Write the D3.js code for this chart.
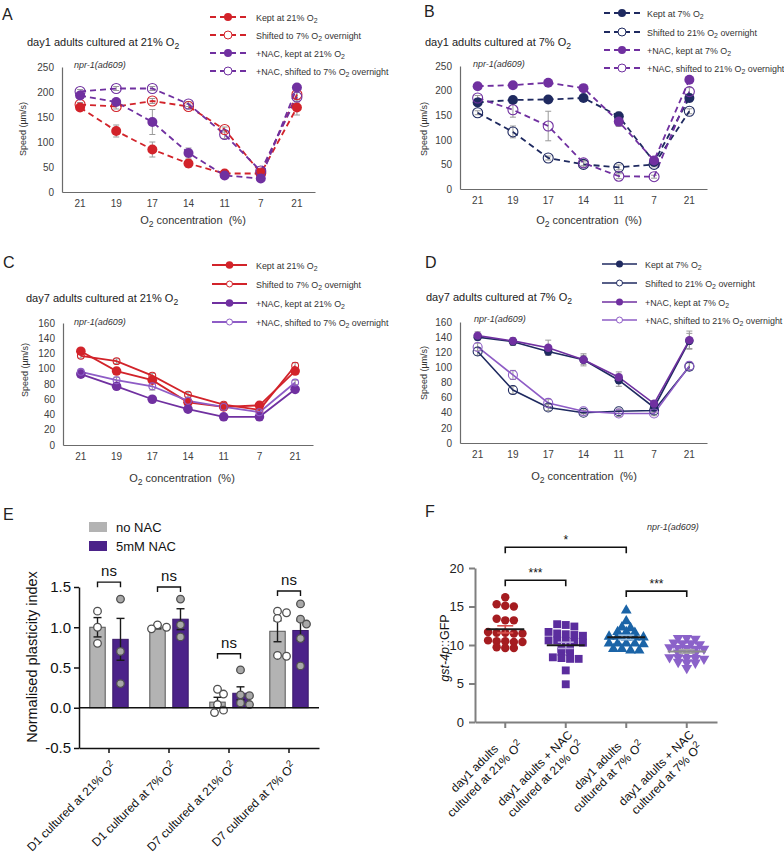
<!DOCTYPE html>
<html><head><meta charset="utf-8">
<script src="https://cdn.jsdelivr.net/npm/d3@7"></script>
<style>
body{margin:0;background:#fff;}
svg{display:block;}
</style></head><body>
<script>
// ---------------- DATA ----------------
const o2Levels = ["21","19","17","14","11","7","21"];

// Panel A: day1 adults cultured at 21% O2
const aKept21      = [169, 122, 85, 57, 37, 37, 169];
const aKept21Err   = [4, 12, 15, 8, 3, 3, 15];
const aShift7      = [175, 171, 182, 171, 125, 38, 195];
const aShift7Err   = [4, 5, 5, 5, 5, 5, 10];
const aNacKept21   = [193, 180, 140, 78, 33, 27, 209];
const aNacKept21Err= [4, 5, 25, 10, 3, 3, 5];
const aNacShift7   = [201, 207, 207, 176, 115, 42, 190];
const aNacShift7Err= [4, 4, 4, 5, 8, 5, 10];

// Panel B: day1 adults cultured at 7% O2
const bKept7       = [176, 181, 182, 185, 148, 55, 185];
const bKept7Err    = [4, 5, 5, 5, 8, 5, 8];
const bShift21     = [155, 116, 63, 50, 44, 50, 158];
const bShift21Err  = [4, 12, 4, 5, 5, 5, 5];
const bNacKept7    = [209, 211, 216, 205, 137, 58, 222];
const bNacKept7Err = [5, 4, 4, 4, 10, 5, 5];
const bNacShift21  = [185, 161, 128, 53, 26, 25, 198];
const bNacShift21Err=[5, 15, 30, 5, 5, 3, 8];

// Panel C: day7 adults cultured at 21% O2
const cKept21      = [123, 97, 85, 56, 50, 52, 97];
const cKept21Err   = [3, 4, 4, 3, 3, 3, 4];
const cShift7      = [117, 110, 91, 66, 53, 46, 104];
const cShift7Err   = [3, 3, 3, 3, 3, 3, 4];
const cNacKept21   = [93, 77, 60, 47, 37, 37, 73];
const cNacKept21Err= [3, 3, 3, 3, 2, 2, 3];
const cNacShift7   = [96, 85, 77, 58, 50, 43, 82];
const cNacShift7Err= [3, 4, 5, 3, 3, 3, 3];

// Panel D: day7 adults cultured at 7% O2
const dKept7       = [140, 134, 121, 110, 83, 47, 135];
const dKept7Err    = [4, 5, 5, 6, 8, 4, 10];
const dShift21     = [121, 70, 47, 40, 42, 43, 101];
const dShift21Err  = [5, 5, 4, 3, 3, 3, 5];
const dNacKept7    = [142, 135, 126, 110, 87, 52, 136];
const dNacKept7Err = [5, 4, 10, 8, 7, 4, 12];
const dNacShift21  = [127, 90, 53, 42, 39, 39, 102];
const dNacShift21Err=[5, 6, 5, 3, 4, 3, 5];

const speedTicks250 = [0, 50, 100, 150, 200, 250];
const speedTicks160 = [0, 20, 40, 60, 80, 100, 120, 140, 160];

// Panel E: normalised plasticity index
const eGroups = ["D1 cultured at 21% O2", "D1 cultured at 7% O2", "D7 cultured at 21% O2", "D7 cultured at 7% O2"];
const eSeries = ["no NAC", "5mM NAC"];
const eNoNacMean = [1.00, 1.00, 0.07, 0.95];
const eNoNacSem  = [0.12, 0.02, 0.06, 0.13];
const eNacMean   = [0.85, 1.10, 0.18, 0.96];
const eNacSem    = [0.26, 0.13, 0.08, 0.12];
const eNoNacPoints = [[1.20, 1.00, 0.80], [1.03, 1.00, 0.98], [0.23, 0.17, 0.04, -0.03, -0.06], [1.20, 1.18, 1.11, 0.65, 0.64]];
const eNacPoints   = [[1.35, 0.70, 0.30], [1.35, 1.03, 0.88], [0.47, 0.16, 0.15, 0.06, 0.04], [1.29, 1.10, 1.04, 0.86, 0.52]];
const eSigLevel = [1.56, 1.50, 0.67, 1.45];
const eSigLabel = ["ns", "ns", "ns", "ns"];
const eTicks = [-0.5, 0, 0.5, 1.0, 1.5];

// Panel F: gst-4p::GFP
const fGroups = [["day1 adults", "cultured at 21% O2"], ["day1 adults + NAC", "cultured at 21% O2"], ["day1 adults", "cultured at 7% O2"], ["day1 adults + NAC", "cultured at 7% O2"]];
const fCtrl21 = [16.2, 15.3, 15.0, 15.1, 13.2, 13.4, 13.2, 11.6, 11.5, 11.7, 11.5, 11.6, 10.4, 10.5, 10.6, 10.4, 10.5, 9.6, 9.6, 9.7];
const fNac21  = [12.6, 12.4, 12.7, 11.5, 11.3, 11.2, 11.4, 11.7, 10.4, 10.6, 10.5, 10.6, 10.3, 9.1, 9.1, 9.4, 9.5, 8.2, 8.2, 8.3, 8.4, 6.7, 4.9];
const fCtrl7  = [14.5, 13.1, 12.3, 12.2, 11.7, 11.7, 11.6, 11.0, 11.1, 11.0, 11.0, 11.1, 10.2, 10.2, 10.1, 10.2, 10.2, 9.5, 9.3, 9.3, 9.5];
const fNac7   = [10.9, 10.8, 10.9, 10.2, 10.3, 10.2, 10.1, 9.6, 9.5, 9.7, 9.6, 9.5, 9.0, 8.9, 9.0, 8.3, 8.4, 8.3, 8.2, 8.4, 7.7, 7.8, 7.7, 7.0];
const fSigPairs = [[0, 1], [0, 2], [2, 3]];
const fSigLevel = [18.4, 22.7, 17.0];
const fSigLabel = ["***", "*", "***"];
const fTicks = [0, 5, 10, 15, 20];

// ---------------- DRAWING ----------------
const FONT = "'Liberation Sans', Arial, Helvetica, sans-serif";
const svg = d3.select("body").append("svg").attr("width", 784).attr("height", 855)
  .style("font-family", FONT);

function richText(parent, str, fs, mode) {
  const shift = mode === "sup" ? -fs * 0.38 : fs * 0.28;
  const parts = str.split("O2");
  let pending = 0;
  parts.forEach((p, i) => {
    if (p) { const t = parent.append("tspan").text(p); if (pending) { t.attr("dy", pending); pending = 0; } }
    if (i < parts.length - 1) {
      const t = parent.append("tspan").text("O"); if (pending) { t.attr("dy", pending); pending = 0; }
      parent.append("tspan").attr("dy", shift).attr("font-size", fs * 0.78).text("2");
      pending = -shift;
    }
  });
}
function txt(parent, x, y, str, fs, opts = {}) {
  const t = parent.append("text").attr("x", x).attr("y", y).attr("font-size", fs)
    .attr("fill", opts.fill || "#222").attr("text-anchor", opts.anchor || "start")
    .style("white-space", "pre");
  if (opts.italic) t.attr("font-style", "italic");
  if (opts.transform) t.attr("transform", opts.transform);
  richText(t, str, fs, opts.mode || "sub");
  return t;
}

function linePanel(p) {
  const g = svg.append("g");
  const x = d3.scaleBand().domain(d3.range(o2Levels.length)).range([p.left, p.right]);
  const cx = i => x(i) + x.bandwidth() / 2;
  const y = d3.scaleLinear().domain([0, p.yTicks[p.yTicks.length - 1]]).range([p.bottom, p.top]);
  const ya = g.append("g").attr("transform", `translate(${p.left},0)`)
    .call(d3.axisLeft(y).tickValues(p.yTicks).tickSize(0).tickSizeOuter(0).tickPadding(8));
  const xa = g.append("g").attr("transform", `translate(0,${p.bottom})`)
    .call(d3.axisBottom(x).tickSize(0).tickSizeOuter(0).tickPadding(8).tickFormat(i => o2Levels[i]));
  [ya, xa].forEach(a => {
    a.select(".domain").attr("stroke", "#6b6b6b").attr("stroke-width", 1.2);
    a.selectAll("text").attr("font-family", FONT).attr("font-size", 10).attr("fill", "#404040");
  });
  p.series.forEach(s => {
    const eg = g.append("g").attr("stroke", "#9a9a9a").attr("stroke-width", 1);
    s.values.forEach((v, i) => {
      const e = s.err[i], X = cx(i);
      eg.append("line").attr("x1", X).attr("x2", X).attr("y1", y(v - e)).attr("y2", y(v + e));
      eg.append("line").attr("x1", X - 3).attr("x2", X + 3).attr("y1", y(v - e)).attr("y2", y(v - e));
      eg.append("line").attr("x1", X - 3).attr("x2", X + 3).attr("y1", y(v + e)).attr("y2", y(v + e));
    });
  });
  p.series.forEach(s => {
    g.append("path").datum(s.values).attr("fill", "none").attr("stroke", s.color)
      .attr("stroke-width", p.lw).attr("stroke-dasharray", p.dash)
      .attr("d", d3.line().x((d, i) => cx(i)).y(d => y(d)));
  });
  p.series.forEach(s => {
    g.append("g").selectAll("circle").data(s.values).join("circle")
      .attr("cx", (d, i) => cx(i)).attr("cy", d => y(d))
      .attr("r", s.filled ? p.rF : p.rO)
      .attr("fill", s.filled ? s.color : "none")
      .attr("stroke", s.color).attr("stroke-width", s.filled ? 0 : 1.1);
  });
  p.series.forEach((s, k) => {
    const ly = p.legY[k];
    g.append("line").attr("x1", p.legX0).attr("x2", p.legX1).attr("y1", ly).attr("y2", ly)
      .attr("stroke", s.color).attr("stroke-width", p.lw).attr("stroke-dasharray", p.dash);
    g.append("circle").attr("cx", (p.legX0 + p.legX1) / 2).attr("cy", ly)
      .attr("r", s.filled ? p.legRF : p.legRO)
      .attr("fill", s.filled ? s.color : "#fff").attr("stroke", s.color).attr("stroke-width", s.filled ? 0 : 1);
    txt(g, p.legTX, ly + 3.5, s.name, 8.9, { fill: "#333" });
  });
  txt(g, p.letter[1], p.letter[2], p.letter[0], 16, { fill: "#222" });
  txt(g, p.title[1], p.title[2], p.title[0], 11, { fill: "#222" });
  txt(g, p.strain[0], p.strain[1], "npr-1(ad609)", 9, { italic: true, fill: "#333" });
  txt(g, 0, 0, "Speed (\u00b5m/s)", 9, { anchor: "middle", fill: "#333", transform: `translate(${p.yLab[0]},${p.yLab[1]}) rotate(-90)` });
  txt(g, p.xLab[0], p.xLab[1], "O2 concentration  (%)", 11, { anchor: "middle", fill: "#333" });
}

const RED = "#d2232a", PURP = "#7030a0", NAVY = "#1f2a60", LPURP = "#8e5cc6";

linePanel({
  left: 62, right: 315, top: 67, bottom: 192, yTicks: speedTicks250, lw: 1.8, dash: "6,4", rF: 5, rO: 5,
  legX0: 210, legX1: 246, legTX: 256, legY: [17, 35, 53, 71], legRF: 4, legRO: 4,
  letter: ["A", 2, 20], title: ["day1 adults cultured at 21% O2", 27, 46], strain: [74, 68],
  yLab: [26, 129], xLab: [193, 224],
  series: [
    { name: "Kept at 21% O2", values: aKept21, err: aKept21Err, color: RED, filled: true },
    { name: "Shifted to 7% O2 overnight", values: aShift7, err: aShift7Err, color: RED, filled: false },
    { name: "+NAC, kept at 21% O2", values: aNacKept21, err: aNacKept21Err, color: PURP, filled: true },
    { name: "+NAC, shifted to 7% O2 overnight", values: aNacShift7, err: aNacShift7Err, color: PURP, filled: false }
  ]
});
linePanel({
  left: 460, right: 707, top: 66, bottom: 189, yTicks: speedTicks250, lw: 1.8, dash: "6,4", rF: 5, rO: 5,
  legX0: 604, legX1: 640, legTX: 647, legY: [13, 32, 50, 68], legRF: 4, legRO: 4,
  letter: ["B", 424, 17], title: ["day1 adults cultured at 7% O2", 425, 46], strain: [473, 67],
  yLab: [427, 129], xLab: [589, 224],
  series: [
    { name: "Kept at 7% O2", values: bKept7, err: bKept7Err, color: NAVY, filled: true },
    { name: "Shifted to 21% O2 overnight", values: bShift21, err: bShift21Err, color: NAVY, filled: false },
    { name: "+NAC, kept at 7% O2", values: bNacKept7, err: bNacKept7Err, color: PURP, filled: true },
    { name: "+NAC, shifted to 21% O2 overnight", values: bNacShift21, err: bNacShift21Err, color: PURP, filled: false }
  ]
});
linePanel({
  left: 63, right: 313, top: 323, bottom: 445, yTicks: speedTicks160, lw: 1.8, dash: null, rF: 4.8, rO: 3.4,
  legX0: 212, legX1: 247, legTX: 256, legY: [265, 284, 303, 322], legRF: 3.8, legRO: 3,
  letter: ["C", 3, 268], title: ["day7 adults cultured at 21% O2", 26, 302], strain: [74, 325],
  yLab: [28, 370], xLab: [182, 482],
  series: [
    { name: "Kept at 21% O2", values: cKept21, err: cKept21Err, color: RED, filled: true },
    { name: "Shifted to 7% O2 overnight", values: cShift7, err: cShift7Err, color: RED, filled: false },
    { name: "+NAC, kept at 21% O2", values: cNacKept21, err: cNacKept21Err, color: PURP, filled: true },
    { name: "+NAC, shifted to 7% O2 overnight", values: cNacShift7, err: cNacShift7Err, color: LPURP, filled: false }
  ]
});
linePanel({
  left: 460, right: 707, top: 322, bottom: 443, yTicks: speedTicks160, lw: 1.6, dash: null, rF: 4.2, rO: 4.5,
  legX0: 602, legX1: 637, legTX: 645, legY: [264, 283, 302, 320], legRF: 3.5, legRO: 3,
  letter: ["D", 425, 268], title: ["day7 adults cultured at 7% O2", 426, 301], strain: [474, 322],
  yLab: [427, 373], xLab: [584, 480],
  series: [
    { name: "Kept at 7% O2", values: dKept7, err: dKept7Err, color: NAVY, filled: true },
    { name: "Shifted to 21% O2 overnight", values: dShift21, err: dShift21Err, color: NAVY, filled: false },
    { name: "+NAC, kept at 7% O2", values: dNacKept7, err: dNacKept7Err, color: PURP, filled: true },
    { name: "+NAC, shifted to 21% O2 overnight", values: dNacShift21, err: dNacShift21Err, color: LPURP, filled: false }
  ]
});

// beeswarm helper (panel E): returns x offsets
function beeswarm(pys, r, step) {
  const idx = pys.map((v, i) => i).sort((a, b) => pys[a] - pys[b]);
  const placed = [], out = new Array(pys.length);
  idx.forEach(i => {
    const yy = pys[i];
    for (let k = 0; k < 60; k++) {
      const m = Math.ceil(k / 2) * (k % 2 ? 1 : -1);
      const dx = m * step;
      if (placed.every(p => (p.x - dx) ** 2 + (p.y - yy) ** 2 >= (2 * r) ** 2 - 0.01)) {
        placed.push({ x: dx, y: yy }); out[i] = dx; break;
      }
    }
  });
  return out;
}
// row layout (panel F): values closer than gap form one centred row
function rowLayout(vals, gap, spacing) {
  const idx = vals.map((v, i) => i).sort((a, b) => vals[b] - vals[a]);
  const rows = []; let cur = [];
  idx.forEach((i, k) => {
    if (k > 0 && vals[idx[k - 1]] - vals[i] > gap) { rows.push(cur); cur = []; }
    cur.push(i);
  });
  rows.push(cur);
  const off = new Array(vals.length);
  rows.forEach(r => r.forEach((i, j) => { off[i] = (j - (r.length - 1) / 2) * spacing; }));
  return off;
}

// ---------------- Panel E ----------------
(function () {
  const g = svg.append("g");
  const GRAY = "#b3b3b3", DPURP = "#4b2289";
  const xE = d3.scaleBand().domain(d3.range(eGroups.length)).range([79, 319]);
  const xS = d3.scaleBand().domain([0, 1]).range([0, xE.bandwidth()]).paddingInner(0.33).paddingOuter(0.47);
  const yE = d3.scaleLinear().domain([-0.5, 1.5]).range([748, 587]);
  const bw = xS.bandwidth();
  const means = [eNoNacMean, eNacMean], sems = [eNoNacSem, eNacSem], pts = [eNoNacPoints, eNacPoints];
  eGroups.forEach((grp, i) => {
    [0, 1].forEach(s => {
      const x0 = xE(i) + xS(s), c = x0 + bw / 2, m = means[s][i], e = sems[s][i];
      g.append("rect").attr("x", x0).attr("width", bw)
        .attr("y", yE(Math.max(0, m))).attr("height", Math.abs(yE(m) - yE(0)))
        .attr("fill", s ? DPURP : GRAY).attr("stroke", s ? "#3a1a6a" : "#555").attr("stroke-width", 1);
      const eg = g.append("g").attr("stroke", "#1a1a1a").attr("stroke-width", 1.4);
      eg.append("line").attr("x1", c).attr("x2", c).attr("y1", yE(m - e)).attr("y2", yE(m + e));
      eg.append("line").attr("x1", c - 4).attr("x2", c + 4).attr("y1", yE(m - e)).attr("y2", yE(m - e));
      eg.append("line").attr("x1", c - 4).attr("x2", c + 4).attr("y1", yE(m + e)).attr("y2", yE(m + e));
      const py = pts[s][i].map(v => yE(v));
      const off = beeswarm(py, 3.6, 3);
      g.append("g").selectAll("circle").data(pts[s][i]).join("circle")
        .attr("cx", (d, j) => c + off[j]).attr("cy", d => yE(d)).attr("r", 3.8)
        .attr("fill", s ? "#a8a8a8" : "#fff").attr("stroke", "#505050").attr("stroke-width", 1.3);
    });
    const xa = xE(i) + xS(0) + bw / 2, xb = xE(i) + xS(1) + bw / 2, yy = yE(eSigLevel[i]);
    g.append("path").attr("d", `M${xa},${yy + 5}V${yy}H${xb}V${yy + 5}`)
      .attr("fill", "none").attr("stroke", "#111").attr("stroke-width", 1.4);
    g.append("text").attr("x", (xa + xb) / 2).attr("y", yy - 6).attr("text-anchor", "middle")
      .attr("font-size", 15).attr("fill", "#111").text(eSigLabel[i]);
    txt(g, -8, 19, grp, 12, { anchor: "end", mode: "sup", fill: "#111",
      transform: `translate(${xE(i) + xE.bandwidth() / 2},748) rotate(-45)` });
  });
  g.append("line").attr("x1", 79).attr("x2", 319).attr("y1", yE(0)).attr("y2", yE(0))
    .attr("stroke", "#111").attr("stroke-width", 1.4);
  const ya = g.append("g").attr("transform", "translate(79,0)")
    .call(d3.axisLeft(yE).tickValues(eTicks).tickSize(5).tickSizeOuter(0).tickPadding(3).tickFormat(d => d.toFixed(1)));
  const xa = g.append("g").attr("transform", "translate(0,748)")
    .call(d3.axisBottom(xE).tickSize(5).tickSizeOuter(0).tickFormat(""));
  [ya, xa].forEach(a => {
    a.selectAll(".domain,line").attr("stroke", "#111").attr("stroke-width", 1.5);
    a.selectAll("text").attr("font-family", FONT).attr("font-size", 15).attr("fill", "#111");
  });
  txt(g, 0, 0, "Normalised plasticity index", 14.5, { anchor: "middle", fill: "#111", transform: "translate(37,657) rotate(-90)" });
  g.append("rect").attr("x", 89).attr("y", 522).attr("width", 18).attr("height", 10).attr("fill", GRAY);
  g.append("rect").attr("x", 89).attr("y", 541).attr("width", 18).attr("height", 10).attr("fill", DPURP);
  txt(g, 116, 532, eSeries[0], 13, { fill: "#111" });
  txt(g, 116, 551, eSeries[1], 13, { fill: "#111" });
  txt(g, 3, 520, "E", 16, { fill: "#222" });
})();

// ---------------- Panel F ----------------
(function () {
  const g = svg.append("g");
  const xF = d3.scaleBand().domain(d3.range(fGroups.length)).range([475, 717]);
  const yF = d3.scaleLinear().domain([0, 20]).range([722, 568]);
  const cxF = i => xF(i) + xF.bandwidth() / 2;
  const data = [fCtrl21, fNac21, fCtrl7, fNac7];
  const colors = ["#a51c20", "#5b2d9e", "#1b64a7", "#8b62c9"];
  const meanCol = ["#1a1a1a", "#1a1a1a", "#1a1a1a", "#8c8c8c"];
  const semCol = ["#d9534f", "#b7a3dd", "#93bde3", "#a8a8a8"];
  const syms = [d3.symbolCircle, d3.symbolSquare, d3.symbolTriangle, d3.symbolTriangle];
  const sizes = [56, 62, 50, 50];

  const ya = g.append("g").attr("transform", "translate(475,0)")
    .call(d3.axisLeft(yF).tickValues(fTicks).tickSize(6).tickSizeOuter(0).tickPadding(5));
  const xa = g.append("g").attr("transform", "translate(0,722)")
    .call(d3.axisBottom(xF).tickSize(6).tickSizeOuter(0).tickFormat(""));
  [ya, xa].forEach(a => {
    a.selectAll(".domain,line").attr("stroke", "#7f7f7f").attr("stroke-width", 2);
    a.selectAll("text").attr("font-family", FONT).attr("font-size", 13).attr("fill", "#222");
  });

  data.forEach((vals, i) => {
    const c = cxF(i);
    const off = rowLayout(vals, 0.3, 8.6);
    g.append("g").selectAll("path").data(vals).join("path")
      .attr("d", d3.symbol().type(syms[i]).size(sizes[i]))
      .attr("transform", (d, j) => `translate(${c + off[j]},${yF(d)})${i === 3 ? " rotate(180)" : ""}`)
      .attr("fill", colors[i]);
    const m = d3.mean(vals), sem = d3.deviation(vals) / Math.sqrt(vals.length);
    const sg = g.append("g").attr("stroke", semCol[i]).attr("stroke-width", 1.6);
    sg.append("line").attr("x1", c).attr("x2", c).attr("y1", yF(m - sem)).attr("y2", yF(m + sem));
    sg.append("line").attr("x1", c - 8).attr("x2", c + 8).attr("y1", yF(m - sem)).attr("y2", yF(m - sem));
    sg.append("line").attr("x1", c - 8).attr("x2", c + 8).attr("y1", yF(m + sem)).attr("y2", yF(m + sem));
    g.append("line").attr("x1", c - 19).attr("x2", c + 19).attr("y1", yF(m)).attr("y2", yF(m))
      .attr("stroke", meanCol[i]).attr("stroke-width", 2);
    const lg = g.append("g").attr("transform", `translate(${c},722) rotate(-45)`);
    const t1 = txt(lg, 0, 15, fGroups[i][0], 12, { anchor: "middle", mode: "sup", fill: "#111" });
    const t2 = txt(lg, 0, 30, fGroups[i][1], 12, { anchor: "middle", mode: "sup", fill: "#111" });
    const w = Math.max(t1.node().getComputedTextLength(), t2.node().getComputedTextLength());
    t1.attr("x", -w / 2 - 4); t2.attr("x", -w / 2 - 4);
  });

  fSigPairs.forEach((pr, k) => {
    const xa = cxF(pr[0]), xb = cxF(pr[1]), yy = yF(fSigLevel[k]);
    g.append("path").attr("d", `M${xa},${yy + 6}V${yy}H${xb}V${yy + 6}`)
      .attr("fill", "none").attr("stroke", "#111").attr("stroke-width", 1.6);
    g.append("text").attr("x", (xa + xb) / 2).attr("y", yy - 3).attr("text-anchor", "middle")
      .attr("font-size", 12).attr("fill", "#111").text(fSigLabel[k]);
  });

  const yl = g.append("text").attr("transform", "translate(449,648) rotate(-90)")
    .attr("text-anchor", "middle").attr("font-size", 12.5).attr("fill", "#111");
  yl.append("tspan").attr("font-style", "italic").text("gst-4p");
  yl.append("tspan").text("::GFP");
  txt(g, 647, 530, "npr-1(ad609)", 9, { italic: true, fill: "#333" });
  txt(g, 425, 517, "F", 16, { fill: "#222" });
})();
</script>
</body></html>
